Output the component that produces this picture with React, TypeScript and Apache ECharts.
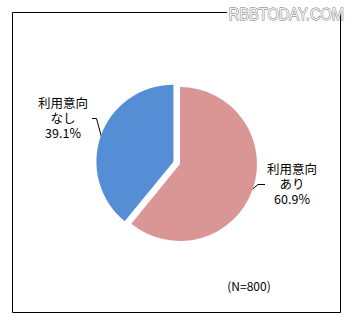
import React, { useEffect, useRef } from "react";
import * as echarts from "echarts";

const categories = ["利用意向\nあり", "利用意向\nなし"];
const shares = [60.9, 39.1];
const sliceColors = ["#D99694", "#558ED5"];
const sampleNote = "(N=800)";
const watermark = "RBBTODAY.COM";

export default function App() {
  const ref = useRef<HTMLDivElement>(null);
  useEffect(() => {
    const chart = echarts.init(ref.current!, null, { renderer: "svg" });
    const labelSpots = [
      { x: 292, y: 183.5, line: [[252.5, 189], [258, 184.5], [265, 184.5]] },
      { x: 63, y: 117.5, line: [[101.5, 137], [96.5, 118.5], [92, 118.5]] },
    ];
    const labelGraphics: any[] = [];
    categories.forEach((name, i) => {
      const s = labelSpots[i];
      labelGraphics.push({
        type: "polyline",
        shape: { points: s.line },
        style: { stroke: "#000", lineWidth: 1, fill: "none" },
        silent: true,
      });
      labelGraphics.push({
        type: "text",
        x: s.x,
        y: s.y,
        style: {
          text: `${name}\n${shares[i].toFixed(1)}%`,
          fontSize: 12.5,
          fontFamily: "Noto Sans CJK JP",
          lineHeight: 15,
          fill: "#000",
          align: "center",
          verticalAlign: "middle",
        },
        silent: true,
      });
    });
    chart.setOption({
      animation: false,
      backgroundColor: "#ffffff",
      graphic: [
        {
          type: "rect",
          shape: { x: 12.5, y: 12.5, width: 328, height: 300 },
          style: { fill: "none", stroke: "#000", lineWidth: 1 },
          silent: true,
        },
        {
          type: "rect",
          shape: { x: 227, y: 5, width: 113, height: 16 },
          style: { fill: "#ffffff" },
          silent: true,
        },
        {
          type: "text",
          x: 344,
          y: 14,
          scaleX: 0.86,
          style: {
            text: watermark,
            font: "17px 'Liberation Sans'",
            fill: "#f4f4f4",
            stroke: "#707070",
            lineWidth: 1,
            align: "right",
            verticalAlign: "middle",
          },
          silent: true,
        },
        {
          type: "text",
          x: 249,
          y: 285,
          style: {
            text: sampleNote,
            font: "12px 'Noto Sans CJK JP'",
            fill: "#000",
            align: "center",
            verticalAlign: "middle",
          },
          silent: true,
        },
        ...labelGraphics,
      ],
      series: [
        {
          type: "pie",
          center: [180, 164],
          radius: 77,
          startAngle: 90,
          clockwise: true,
          selectedMode: "single",
          selectedOffset: 7,
          silent: true,
          emphasis: { disabled: true },
          itemStyle: { borderWidth: 0 },
          label: { show: false },
          labelLine: { show: false },
          data: categories.map((name, i) => ({
            name,
            value: shares[i],
            selected: i === 1,
            itemStyle: { color: sliceColors[i] },
          })),
        },
      ],
    });
    return () => chart.dispose();
  }, []);
  return (
    <div
      ref={ref}
      style={{ position: "fixed", left: 0, top: 0, width: 351, height: 322 }}
    />
  );
}
